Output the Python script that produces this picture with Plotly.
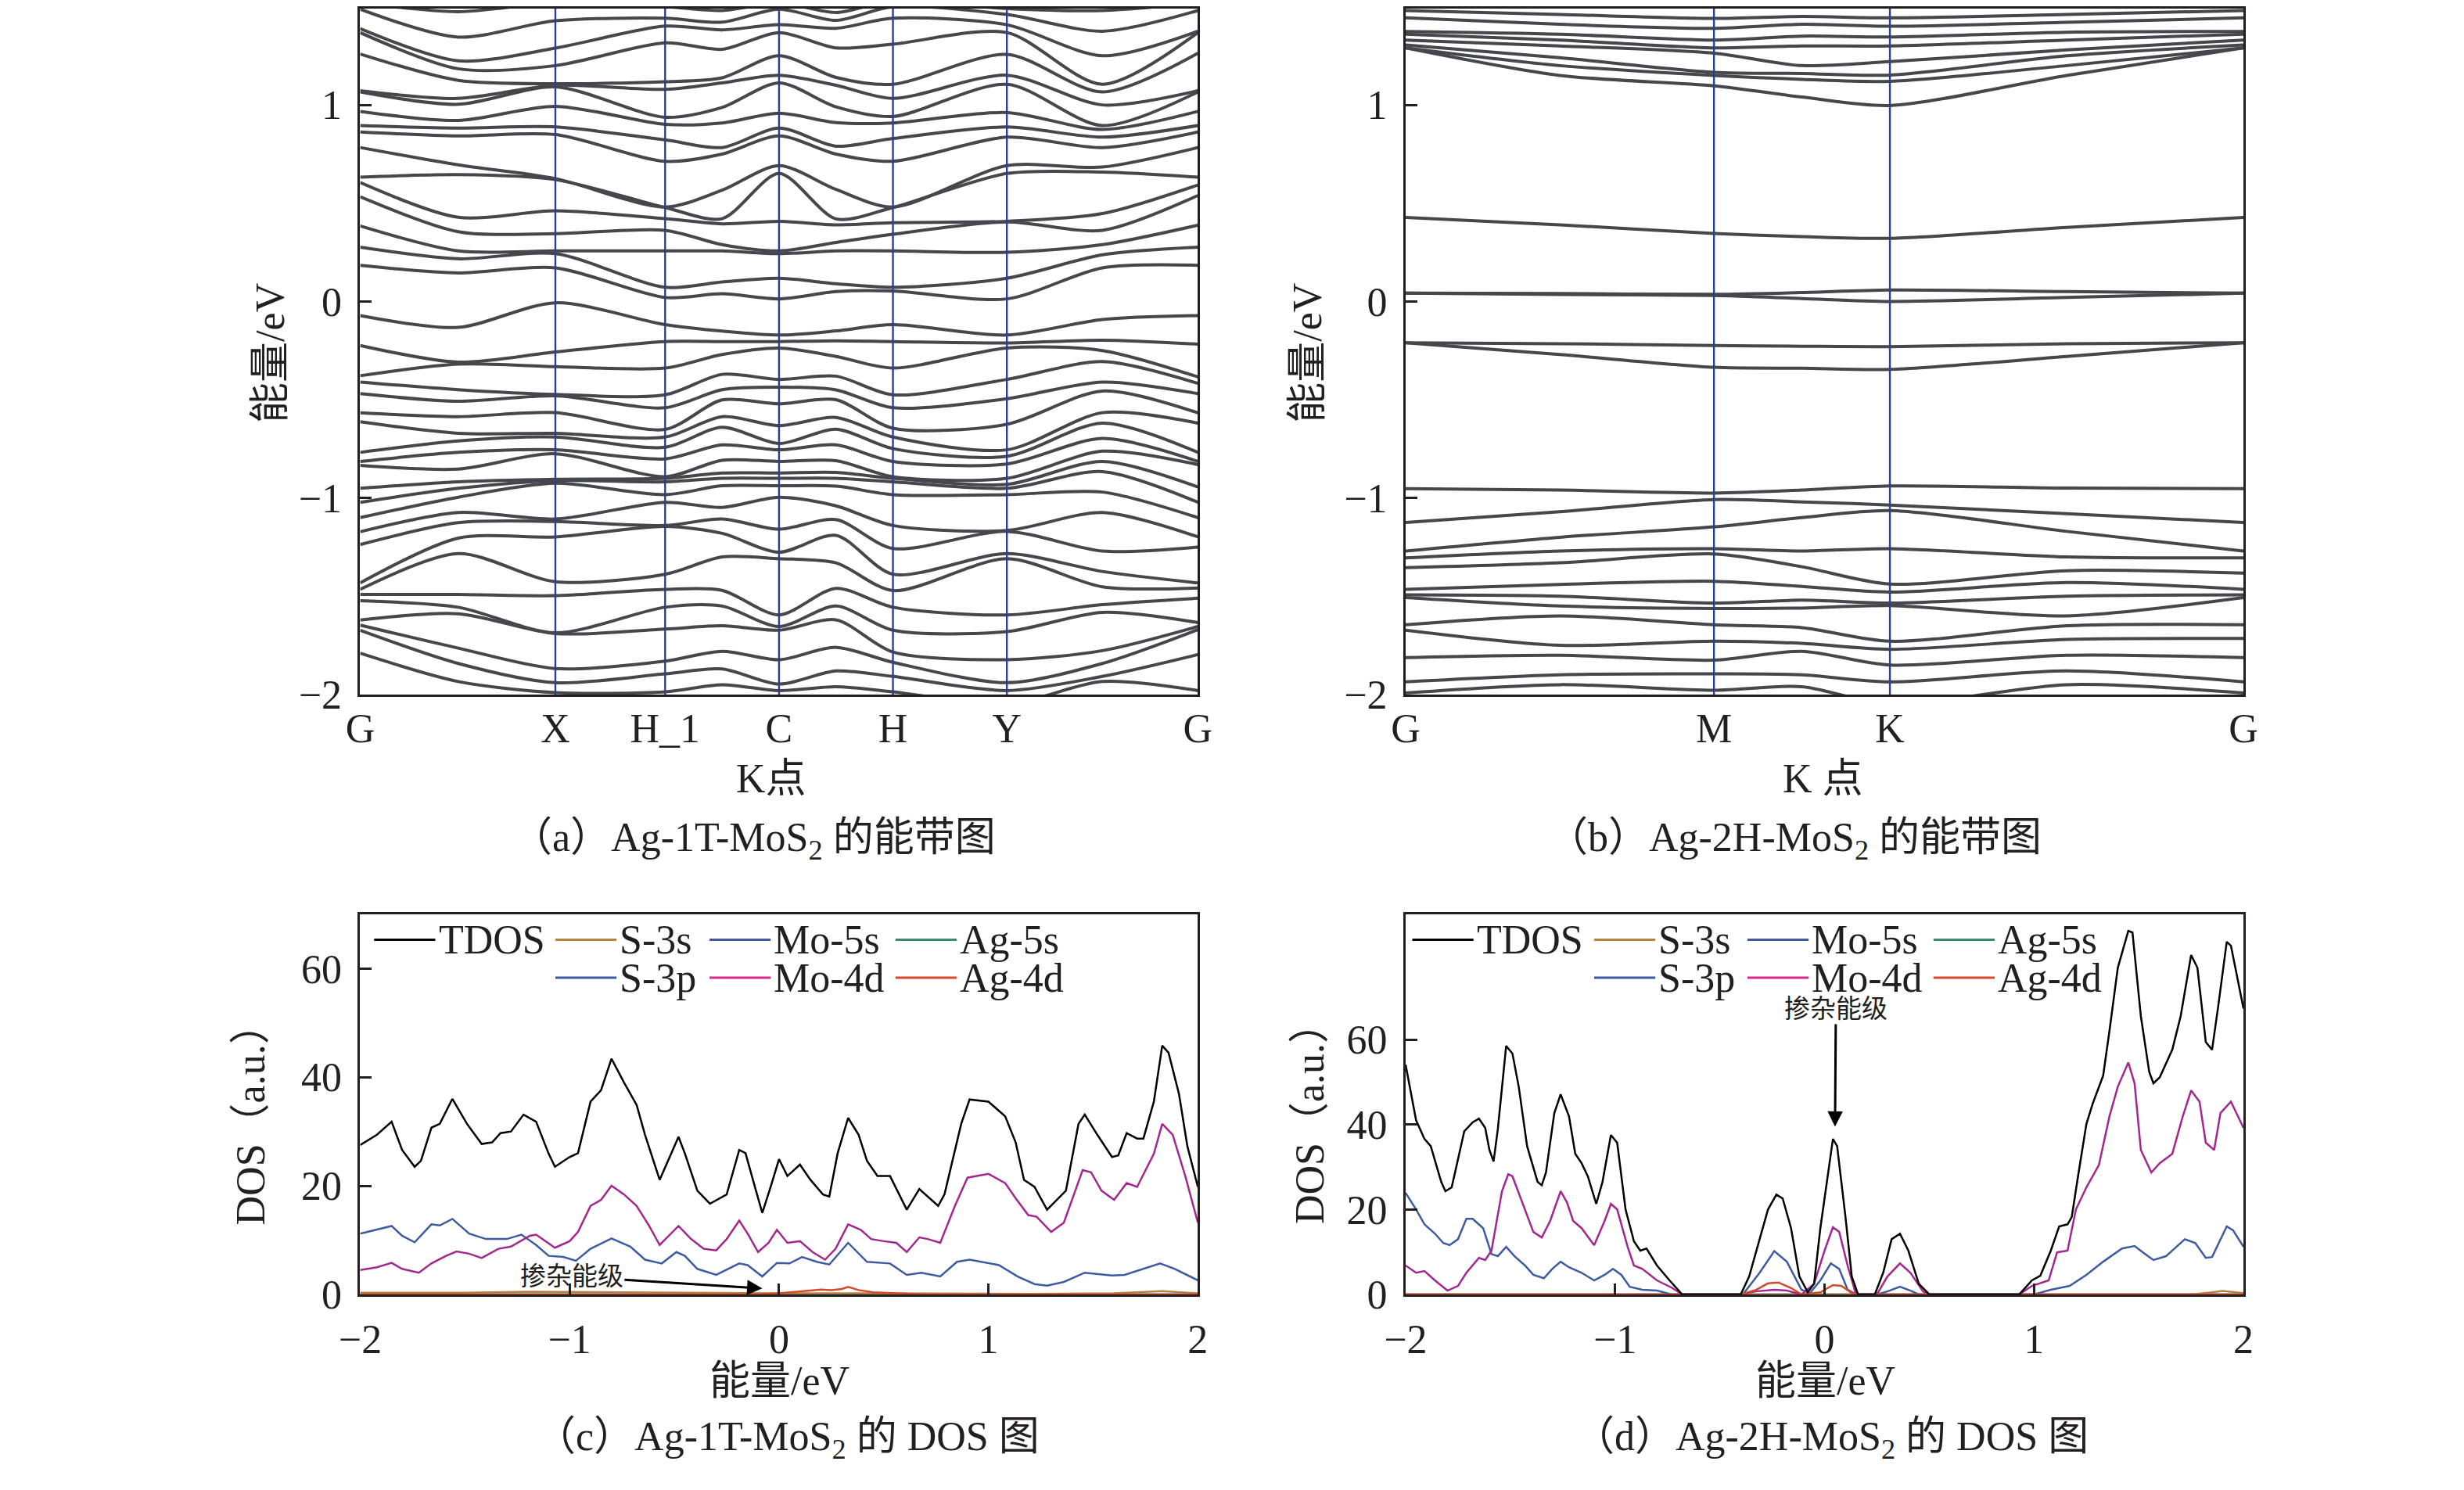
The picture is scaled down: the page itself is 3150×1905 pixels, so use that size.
import plotly.graph_objects as go

# ---------------- (a) Ag-1T-MoS2 band structure ----------------
# energies (eV) read at each k column along G-X-H_1-C-H-Y-G
k_1t = [0.0, 0.117, 0.233, 0.364, 0.432, 0.5, 0.568, 0.636, 0.772, 0.886, 1.0]
hs_1t_pos = [0.0, 0.233, 0.364, 0.5, 0.636, 0.772, 1.0]
hs_1t_lbl = ["G", "X", "H_1", "C", "H", "Y", "G"]

e1t_c0 = [1.52, 1.487, 1.388, 1.368, 1.259, 1.072, 1.066, 0.967, 0.895, 0.862, 0.783, 0.632, 0.605, 0.533,
          0.384, 0.276, 0.184, -0.072, -0.224, -0.378, -0.41, -0.469, -0.567, -0.612, -0.768, -0.814, -0.834,
          -0.951, -1.022, -1.1, -1.172, -1.237, -1.432, -1.465, -1.491, -1.523, -1.621, -1.647, -1.673, -1.79]
e1t_c1 = [1.474, 1.345, 1.224, 1.184, 1.125, 1.033, 1.003, 0.921, 0.882, 0.842, 0.695, 0.645, 0.428, 0.355,
          0.257, 0.217, 0.145, -0.132, -0.309, -0.319, -0.449, -0.508, -0.586, -0.671, -0.71, -0.768, -0.853,
          -0.918, -0.951, -0.996, -1.074, -1.126, -1.204, -1.283, -1.491, -1.556, -1.589, -1.764, -1.842, -1.934]
e1t_c2 = [1.52, 1.428, 1.289, 1.2, 1.108, 1.1, 1.092, 0.993, 0.888, 0.849, 0.625, 0.62, 0.461, 0.345, 0.257,
          0.243, 0.171, -0.007, -0.257, -0.332, -0.473, -0.48, -0.566, -0.671, -0.69, -0.755, -0.775, -0.905,
          -0.912, -0.925, -1.107, -1.12, -1.198, -1.426, -1.497, -1.686, -1.69, -1.868, -1.94, -1.99]
e1t_c3 = [1.5, 1.441, 1.401, 1.316, 1.118, 1.079, 0.937, 0.901, 0.822, 0.713, 0.48, 0.478, 0.421, 0.362, 0.257,
          0.072, 0.02, -0.118, -0.204, -0.339, -0.475, -0.541, -0.651, -0.69, -0.742, -0.801, -0.892, -0.9,
          -0.918, -0.983, -1.022, -1.14, -1.145, -1.388, -1.465, -1.556, -1.667, -1.83, -1.895, -1.986]
e1t_c4 = [1.48, 1.421, 1.382, 1.283, 1.138, 1.112, 0.987, 0.908, 0.783, 0.75, 0.566, 0.421, 0.395, 0.289,
          0.257, 0.099, 0.039, -0.151, -0.204, -0.27, -0.371, -0.449, -0.501, -0.586, -0.64, -0.73, -0.808,
          -0.873, -0.9, -0.938, -1.048, -1.107, -1.18, -1.3, -1.47, -1.55, -1.65, -1.78, -1.87, -1.95]
e1t_c5 = [1.52, 1.487, 1.408, 1.368, 1.25, 1.151, 1.112, 0.958, 0.882, 0.842, 0.691, 0.651, 0.408, 0.257,
          0.243, 0.118, 0.013, -0.171, -0.204, -0.237, -0.397, -0.436, -0.521, -0.632, -0.723, -0.755, -0.814,
          -0.873, -0.9, -0.938, -0.996, -1.159, -1.276, -1.309, -1.595, -1.654, -1.673, -1.823, -1.947, -1.98]
e1t_c6 = [1.47, 1.43, 1.39, 1.29, 1.14, 1.10, 0.99, 0.91, 0.79, 0.75, 0.57, 0.42, 0.39, 0.3, 0.257, 0.09,
          0.05, -0.15, -0.2, -0.28, -0.38, -0.45, -0.5, -0.59, -0.65, -0.73, -0.81, -0.87, -0.9, -0.94, -1.04,
          -1.11, -1.19, -1.33, -1.46, -1.55, -1.62, -1.76, -1.88, -1.96]
e1t_c7 = [1.53, 1.5, 1.441, 1.309, 1.105, 1.033, 0.941, 0.908, 0.829, 0.713, 0.48, 0.478, 0.401, 0.342, 0.257,
          0.072, 0.053, -0.118, -0.204, -0.339, -0.475, -0.541, -0.645, -0.69, -0.749, -0.814, -0.892, -0.9,
          -0.918, -0.983, -1.14, -1.257, -1.388, -1.471, -1.556, -1.673, -1.784, -1.836, -1.908, -1.986]
e1t_c8 = [1.49, 1.46, 1.408, 1.368, 1.257, 1.151, 1.105, 0.961, 0.888, 0.836, 0.691, 0.651, 0.408, 0.405,
          0.25, 0.118, 0.013, -0.171, -0.211, -0.237, -0.397, -0.495, -0.625, -0.755, -0.788, -0.827, -0.9,
          -0.931, -0.951, -0.983, -1.165, -1.17, -1.283, -1.309, -1.595, -1.68, -1.823, -1.94, -1.98, -2.05]
e1t_c9 = [1.48, 1.375, 1.25, 1.105, 1.066, 1.0, 0.895, 0.875, 0.836, 0.783, 0.684, 0.658, 0.447, 0.362,
          0.289, 0.237, 0.171, -0.092, -0.197, -0.25, -0.306, -0.41, -0.456, -0.566, -0.619, -0.697, -0.762,
          -0.814, -0.866, -0.97, -1.074, -1.27, -1.374, -1.452, -1.543, -1.582, -1.777, -1.842, -1.908, -1.934]
e1t_c10 = [1.52, 1.48, 1.375, 1.368, 1.263, 1.072, 1.066, 0.967, 0.895, 0.862, 0.783, 0.632, 0.592, 0.539,
           0.388, 0.276, 0.184, -0.072, -0.217, -0.384, -0.417, -0.469, -0.567, -0.619, -0.768, -0.814, -0.83,
           -0.944, -1.022, -1.1, -1.198, -1.25, -1.432, -1.458, -1.51, -1.634, -1.654, -1.67, -1.797, -1.98]

# ---------------- (b) Ag-2H-MoS2 band structure ----------------
k_2h = [0.0, 0.184, 0.368, 0.473, 0.578, 0.789, 1.0]
hs_2h_pos = [0.0, 0.368, 0.578, 1.0]
hs_2h_lbl = ["G", "M", "K", "G"]

e2h_c0 = [1.48, 1.443, 1.374, 1.36, 1.33, 1.305, 1.29, 1.29, 0.427, 0.042, 0.042, -0.21, -0.21, -0.953,
          -1.125, -1.27, -1.305, -1.355, -1.465, -1.493, -1.507, -1.645, -1.673, -1.812, -1.936, -1.992]
e2h_c1 = [1.46, 1.41, 1.36, 1.33, 1.3, 1.24, 1.2, 1.15, 0.39, 0.04, 0.035, -0.215, -0.27, -0.96, -1.07,
          -1.2, -1.27, -1.33, -1.44, -1.5, -1.55, -1.6, -1.75, -1.8, -1.9, -1.95]
e2h_c2 = [1.44, 1.39, 1.33, 1.29, 1.263, 1.166, 1.15, 1.097, 0.346, 0.036, 0.03, -0.224, -0.335, -0.975,
          -1.008, -1.147, -1.258, -1.285, -1.424, -1.535, -1.562, -1.645, -1.729, -1.825, -1.895, -1.978]
e2h_c3 = [1.45, 1.41, 1.35, 1.3, 1.2, 1.16, 1.13, 1.04, 0.33, 0.045, 0.015, -0.228, -0.34, -0.96, -1.02,
          -1.1, -1.27, -1.35, -1.45, -1.52, -1.56, -1.66, -1.74, -1.78, -1.9, -1.96]
e2h_c4 = [1.443, 1.4, 1.346, 1.3, 1.22, 1.152, 1.12, 0.997, 0.321, 0.058, 0.0, -0.23, -0.346, -0.939, -1.036,
          -1.064, -1.258, -1.438, -1.479, -1.535, -1.548, -1.729, -1.77, -1.85, -1.936, -2.05]
e2h_c5 = [1.46, 1.42, 1.37, 1.33, 1.28, 1.25, 1.2, 1.15, 0.377, 0.05, 0.02, -0.215, -0.28, -0.95, -1.08,
          -1.17, -1.3, -1.37, -1.43, -1.5, -1.6, -1.65, -1.72, -1.8, -1.88, -1.95]
e2h_c6 = [1.48, 1.443, 1.374, 1.36, 1.33, 1.305, 1.29, 1.29, 0.427, 0.042, 0.042, -0.21, -0.21, -0.953,
          -1.125, -1.27, -1.305, -1.382, -1.465, -1.493, -1.507, -1.645, -1.715, -1.812, -1.936, -1.992]

# ---------------- (c) Ag-1T-MoS2 DOS ----------------
c_tdos_e = [-2.00, -1.92, -1.85, -1.80, -1.74, -1.71, -1.66, -1.62, -1.56, -1.49, -1.42, -1.37, -1.33, -1.28,
            -1.22, -1.16, -1.10, -1.07, -1.00, -0.96, -0.90, -0.85, -0.80, -0.74, -0.68, -0.64, -0.57, -0.48,
            -0.45, -0.39, -0.33, -0.25, -0.19, -0.16, -0.11, -0.08, -0.04, 0.00, 0.04, 0.10, 0.15, 0.21, 0.24,
            0.28, 0.33, 0.38, 0.42, 0.47, 0.53, 0.61, 0.67, 0.71, 0.76, 0.79, 0.87, 0.91, 1.00, 1.08, 1.13,
            1.17, 1.22, 1.28, 1.37, 1.43, 1.46, 1.52, 1.59, 1.62, 1.66, 1.71, 1.74, 1.79, 1.83, 1.86, 1.91,
            1.95, 2.00]
c_tdos = [27.5, 29.4, 31.8, 26.6, 23.5, 24.6, 30.7, 31.4, 36.0, 31.4, 27.7, 28.0, 29.7, 30.0, 33.1, 31.8,
          25.9, 23.5, 25.3, 26.0, 35.5, 37.6, 43.4, 39.0, 34.9, 29.4, 21.1, 29.0, 26.0, 19.1, 16.7, 18.4,
          26.6, 26.0, 19.1, 15.0, 19.8, 24.9, 21.8, 23.9, 21.1, 18.4, 18.0, 26.0, 32.5, 29.4, 24.6, 21.8,
          21.8, 15.6, 19.4, 18.0, 16.3, 18.4, 31.4, 35.9, 35.5, 32.8, 28.0, 21.1, 19.8, 15.6, 19.1, 31.4,
          33.1, 29.4, 25.3, 25.6, 29.7, 28.7, 28.7, 35.5, 45.8, 44.5, 36.9, 27.3, 19.8]
c_mo4d_e = [-2.00, -1.92, -1.85, -1.80, -1.72, -1.66, -1.59, -1.54, -1.48, -1.42, -1.34, -1.28, -1.19, -1.16,
            -1.07, -1.00, -0.96, -0.90, -0.85, -0.80, -0.74, -0.68, -0.62, -0.57, -0.48, -0.42, -0.36, -0.30,
            -0.25, -0.19, -0.15, -0.10, -0.05, -0.01, 0.04, 0.10, 0.16, 0.22, 0.27, 0.33, 0.39, 0.44, 0.50,
            0.56, 0.61, 0.67, 0.71, 0.77, 0.84, 0.90, 1.00, 1.08, 1.13, 1.19, 1.23, 1.30, 1.36, 1.45, 1.49,
            1.54, 1.60, 1.66, 1.71, 1.79, 1.83, 1.88, 1.94, 2.00]
c_mo4d = [4.5, 5.0, 5.8, 4.7, 4.0, 5.7, 7.1, 7.9, 7.5, 6.7, 8.4, 8.8, 10.8, 11.0, 8.6, 9.8, 11.5, 16.3, 17.4,
          20.0, 18.4, 16.3, 12.6, 9.1, 12.6, 10.2, 8.4, 8.1, 10.2, 13.6, 11.2, 7.8, 9.5, 11.9, 9.5, 9.8, 7.8,
          6.4, 8.4, 12.9, 11.9, 10.2, 9.8, 9.5, 7.8, 10.5, 10.2, 9.5, 16.3, 21.5, 22.2, 20.5, 17.7, 14.6,
          14.3, 11.5, 13.2, 22.9, 22.5, 19.1, 17.4, 20.5, 19.8, 25.9, 31.4, 29.4, 21.8, 13.2]
c_s3p_e = [-2.00, -1.92, -1.85, -1.80, -1.74, -1.66, -1.62, -1.56, -1.48, -1.40, -1.30, -1.23, -1.16, -1.10,
           -1.03, -0.97, -0.90, -0.80, -0.71, -0.64, -0.56, -0.49, -0.45, -0.39, -0.30, -0.19, -0.15, -0.08,
           -0.01, 0.05, 0.11, 0.18, 0.24, 0.33, 0.42, 0.53, 0.61, 0.68, 0.77, 0.85, 0.91, 1.05, 1.14, 1.22,
           1.28, 1.36, 1.46, 1.59, 1.65, 1.82, 1.89, 2.00]
c_s3p = [11.2, 11.9, 12.6, 10.8, 9.6, 12.9, 12.7, 13.9, 11.2, 10.2, 10.2, 11.0, 9.1, 7.1, 6.9, 6.2, 8.4, 10.3,
         8.8, 6.4, 5.7, 7.8, 7.1, 4.7, 3.6, 5.7, 5.4, 3.3, 5.8, 5.7, 6.9, 6.0, 5.5, 9.5, 6.0, 5.7, 3.6, 4.0,
         3.3, 6.0, 6.4, 5.4, 3.3, 1.9, 1.6, 2.3, 4.0, 3.5, 3.6, 5.7, 4.7, 2.6]
c_s3s_e = [-2.0, -1.5, -1.2, -0.8, -0.4, 0.0, 0.4, 0.8, 1.2, 1.6, 1.83, 2.0]
c_s3s = [0.3, 0.3, 0.5, 0.4, 0.2, 0.2, 0.2, 0.1, 0.1, 0.2, 0.6, 0.2]
c_ag4d_e = [-2.0, -0.1, 0.0, 0.1, 0.2, 0.25, 0.3, 0.33, 0.38, 0.45, 0.55, 0.7, 2.0]
c_ag4d = [0.0, 0.0, 0.2, 0.5, 0.9, 0.8, 1.0, 1.4, 0.8, 0.4, 0.2, 0.0, 0.0]
c_zero_e = [-2.0, 2.0]
c_zero = [0.0, 0.0]

# ---------------- (d) Ag-2H-MoS2 DOS ----------------
d_tdos_e = [-2.00, -1.95, -1.91, -1.88, -1.83, -1.81, -1.78, -1.72, -1.68, -1.65, -1.62, -1.60, -1.58, -1.56,
            -1.52, -1.49, -1.46, -1.42, -1.37, -1.35, -1.33, -1.29, -1.26, -1.22, -1.19, -1.16, -1.13, -1.09,
            -1.06, -1.02, -0.99, -0.95, -0.91, -0.88, -0.85, -0.80, -0.74, -0.68, -0.40, -0.36, -0.31, -0.27,
            -0.23, -0.20, -0.16, -0.12, -0.08, -0.05, -0.02, 0.04, 0.06, 0.10, 0.13, 0.16, 0.24, 0.28, 0.32,
            0.36, 0.40, 0.45, 0.50, 0.93, 0.99, 1.03, 1.08, 1.12, 1.16, 1.18, 1.21, 1.25, 1.28, 1.33, 1.36,
            1.40, 1.45, 1.47, 1.51, 1.55, 1.57, 1.60, 1.66, 1.70, 1.75, 1.78, 1.82, 1.85, 1.88, 1.92, 1.94,
            2.00]
d_tdos = [54.1, 41.0, 36.6, 34.9, 26.5, 24.3, 25.2, 38.4, 40.5, 41.4, 39.2, 34.0, 31.3, 38.8, 58.5, 56.7,
          48.9, 34.9, 26.5, 25.7, 28.7, 42.7, 47.1, 41.9, 33.1, 30.9, 27.8, 21.3, 26.5, 37.5, 35.7, 20.0,
          12.5, 10.3, 10.8, 6.8, 3.3, 0, 0, 4.2, 13.0, 20.0, 23.5, 22.6, 15.6, 4.2, 0.5, 2.5, 15.6, 36.6,
          34.9, 18.2, 4.2, 0, 0, 5.1, 13.0, 14.3, 10.3, 2.5, 0, 0, 3.3, 4.4, 10.3, 16.0, 16.5, 18.2, 27.8,
          40.1, 44.9, 51.5, 62.0, 76.9, 85.6, 85.2, 65.5, 52.4, 49.7, 51.1, 57.6, 65.5, 79.9, 76.9, 59.4,
          57.6, 68.1, 83.0, 82.1, 67.3]
d_mo4d_e = [-2.00, -1.95, -1.91, -1.86, -1.80, -1.75, -1.71, -1.65, -1.62, -1.59, -1.54, -1.51, -1.49, -1.43,
            -1.39, -1.35, -1.31, -1.26, -1.23, -1.20, -1.16, -1.10, -1.05, -1.02, -0.99, -0.94, -0.91, -0.87,
            -0.80, -0.73, -0.68, -0.40, -0.33, -0.24, -0.18, -0.11, -0.05, 0.00, 0.04, 0.07, 0.11, 0.15, 0.25,
            0.30, 0.36, 0.41, 0.47, 0.50, 0.93, 0.99, 1.07, 1.11, 1.16, 1.20, 1.25, 1.31, 1.36, 1.40, 1.45,
            1.48, 1.51, 1.56, 1.60, 1.66, 1.71, 1.75, 1.79, 1.82, 1.86, 1.89, 1.94, 2.00]
d_mo4d = [6.8, 5.1, 5.5, 3.3, 0.9, 2.0, 5.1, 8.6, 8.1, 10.3, 24.3, 28.3, 27.8, 20.0, 14.7, 13.4, 17.3, 24.3,
          21.7, 17.3, 15.6, 11.6, 17.3, 21.3, 20.0, 11.2, 6.8, 6.0, 3.3, 1.6, 0, 0, 0.7, 1.1, 0.9, 0, 2.5,
          10.3, 15.8, 14.7, 6.8, 0, 0, 4.2, 7.3, 5.1, 0.7, 0, 0, 2.0, 3.3, 9.9, 10.3, 20.0, 25.2, 30.5, 41.9,
          48.9, 54.6, 49.7, 34.0, 28.7, 30.9, 33.1, 41.9, 48.0, 45.4, 35.7, 34.0, 42.7, 45.4, 39.2]
d_s3p_e = [-2.00, -1.95, -1.91, -1.86, -1.82, -1.79, -1.75, -1.71, -1.68, -1.63, -1.59, -1.56, -1.52, -1.48,
           -1.43, -1.39, -1.34, -1.30, -1.26, -1.22, -1.16, -1.10, -1.05, -1.01, -0.97, -0.93, -0.87, -0.80,
           -0.73, -0.39, -0.31, -0.24, -0.18, -0.11, -0.07, -0.02, 0.03, 0.07, 0.11, 0.15, 0.25, 0.30, 0.36,
           0.41, 0.45, 1.00, 1.08, 1.17, 1.25, 1.33, 1.42, 1.48, 1.52, 1.57, 1.63, 1.72, 1.77, 1.82, 1.85,
           1.92, 1.95, 2.00]
d_s3p = [23.9, 20.0, 16.5, 14.3, 12.1, 11.6, 13.0, 17.8, 17.8, 15.6, 9.5, 9.0, 11.2, 9.0, 6.8, 4.6, 3.8, 6.0,
         7.7, 6.4, 5.1, 3.3, 4.6, 6.0, 4.6, 1.8, 1.1, 0.9, 0, 0, 5.1, 10.2, 7.7, 1.1, 0.3, 3.3, 7.3, 6.0, 1.1,
         0, 0, 0.7, 1.8, 0.9, 0, 0, 1.1, 2.0, 4.6, 7.7, 10.8, 11.4, 9.9, 8.1, 9.0, 13.0, 12.1, 8.6, 8.8, 16.0,
         15.1, 11.2]
d_ag4d_e = [-2.0, -0.40, -0.33, -0.27, -0.22, -0.16, -0.11, -0.02, 0.04, 0.08, 0.13, 0.16, 2.0]
d_ag4d = [0.0, 0.0, 1.0, 2.6, 2.8, 1.5, 0.0, 0.5, 2.2, 2.0, 0.3, 0.0, 0.0]
d_s3s_e = [-2.0, 1.75, 1.85, 1.9, 2.0]
d_s3s = [0.0, 0.0, 0.5, 0.8, 0.3]
d_zero_e = [-2.0, 2.0]
d_zero = [0.0, 0.0]

legend_names = ["TDOS", "S-3s", "Mo-5s", "Ag-5s", "S-3p", "Mo-4d", "Ag-4d"]
legend_colors = ["#000000", "#b5813f", "#45589c", "#3a8a72", "#3e5aa0", "#d42a8a", "#d24a2a"]

FONT = "Liberation Serif, Noto Sans CJK SC"
INK = "#231f20"
BAND = "#46474c"
VLINE = "#2e3f8f"


def to_bands(cols):
    # connect the n-th lowest level of every k column
    cols = [sorted(c) for c in cols]
    n = min(len(c) for c in cols)
    return [[c[i] for c in cols] for i in range(n)]


fig = go.Figure()

# band structures
for cols, kk, xa, ya in [
    ([e1t_c0, e1t_c1, e1t_c2, e1t_c3, e1t_c4, e1t_c5, e1t_c6, e1t_c7, e1t_c8, e1t_c9, e1t_c10], k_1t, "x", "y"),
    ([e2h_c0, e2h_c1, e2h_c2, e2h_c3, e2h_c4, e2h_c5, e2h_c6], k_2h, "x2", "y2"),
]:
    for band in to_bands(cols):
        fig.add_trace(go.Scatter(x=kk, y=band, mode="lines", xaxis=xa, yaxis=ya,
                                 line=dict(color=BAND, width=4, shape="spline", smoothing=0.8),
                                 hoverinfo="skip", showlegend=False))

# high-symmetry vertical lines
for pos, xa, ya in [(hs_1t_pos[1:-1], "x", "y"), (hs_2h_pos[1:-1], "x2", "y2")]:
    for k in pos:
        fig.add_shape(type="line", xref=xa, yref=ya + " domain", x0=k, x1=k, y0=0, y1=1,
                      line=dict(color=VLINE, width=2.4), layer="above")

# DOS curves
c_series = [(c_zero_e, c_zero, "#3a8a72"), (c_zero_e, c_zero, "#45589c"), (c_s3s_e, c_s3s, "#b5813f"),
            (c_s3p_e, c_s3p, "#3e5aa0"), (c_mo4d_e, c_mo4d, "#a3278f"), (c_ag4d_e, c_ag4d, "#d24a2a"),
            (c_tdos_e, c_tdos, "#000000")]
d_series = [(d_zero_e, d_zero, "#3a8a72"), (d_zero_e, d_zero, "#45589c"), (d_s3s_e, d_s3s, "#b5813f"),
            (d_s3p_e, d_s3p, "#3e5aa0"), (d_mo4d_e, d_mo4d, "#a3278f"), (d_ag4d_e, d_ag4d, "#d24a2a"),
            (d_tdos_e, d_tdos, "#000000")]
for series, xa, ya in [(c_series, "x3", "y3"), (d_series, "x4", "y4")]:
    for ex, vy, col in series:
        fig.add_trace(go.Scatter(x=ex, y=vy, mode="lines", xaxis=xa, yaxis=ya,
                                 line=dict(color=col, width=2.5), hoverinfo="skip", showlegend=False))

# hand-drawn legends (two rows, four columns)
leg_rows = [0.933, 0.933, 0.933, 0.933, 0.833, 0.833, 0.833]
leg_c_x = [0.0166, 0.233, 0.417, 0.639, 0.233, 0.417, 0.639]
leg_d_x = [0.008, 0.225, 0.408, 0.630, 0.225, 0.408, 0.630]
for xa, ya, xs in [("x3", "y3", leg_c_x), ("x4", "y4", leg_d_x)]:
    for name, col, x0, y0 in zip(legend_names, legend_colors, xs, leg_rows):
        fig.add_shape(type="line", xref=xa + " domain", yref=ya + " domain",
                      x0=x0, x1=x0 + 0.073, y0=y0, y1=y0, line=dict(color=col, width=3))
        fig.add_annotation(xref=xa + " domain", yref=ya + " domain", x=x0 + 0.075, y=y0,
                           text=name, showarrow=False, xanchor="left", yanchor="middle",
                           font=dict(family=FONT, size=52, color=INK))

# doping-level labels with arrows
fig.add_annotation(xref="x3", yref="y3", x=-0.08, y=1.1, ax=-0.99, ay=3.3, axref="x3", ayref="y3",
                   text="掺杂能级", showarrow=True, arrowhead=2, arrowsize=1.3, arrowwidth=3,
                   arrowcolor="#000", standoff=0, font=dict(family=FONT, size=33, color=INK))
fig.add_annotation(xref="x4", yref="y4", x=0.05, y=39.5, ax=0.054, ay=67.2, axref="x4", ayref="y4",
                   text="掺杂能级", showarrow=True, arrowhead=2, arrowsize=1.3, arrowwidth=3,
                   arrowcolor="#000", standoff=0, font=dict(family=FONT, size=33, color=INK))

# axis titles and captions
texts = [
    (0.0997, 0.7648, "能量/eV", -90), (0.527, 0.7648, "能量/eV", -90),
    (0.306, 0.4745, "K点", 0), (0.7394, 0.4745, "K 点", 0),
    (0.0917, 0.2451, "DOS（a.u.）", -90), (0.5278, 0.2460, "DOS（a.u.）", -90),
    (0.3095, 0.0635, "能量/eV", 0), (0.7403, 0.0635, "能量/eV", 0),
    (0.299, 0.432, "（a）Ag-1T-MoS<sub>2</sub> 的能带图", 0),
    (0.7276, 0.432, "（b）Ag-2H-MoS<sub>2</sub> 的能带图", 0),
    (0.3127, 0.0231, "（c）Ag-1T-MoS<sub>2</sub> 的 DOS 图", 0),
    (0.7429, 0.0231, "（d）Ag-2H-MoS<sub>2</sub> 的 DOS 图", 0),
]
for x, y, t, ang in texts:
    fig.add_annotation(xref="paper", yref="paper", x=x, y=y, text=t, showarrow=False,
                       textangle=ang, xanchor="center", yanchor="middle",
                       font=dict(family=FONT, size=52, color=INK))

tickfont = dict(family=FONT, size=52, color=INK)
frame = dict(showline=True, mirror=True, linewidth=3, linecolor=INK, showgrid=False, zeroline=False,
             tickfont=tickfont)

band_y = dict(frame, range=[-2, 1.49], tickvals=[-2, -1, 0, 1], ticktext=["−2", "−1", "0", "1"],
              ticks="inside", ticklen=15, tickwidth=3, tickcolor=INK, ticklabelstandoff=10)
dos_x = dict(frame, range=[-2, 2], tickvals=[-2, -1, 0, 1, 2], ticktext=["−2", "−1", "0", "1", "2"],
             ticks="inside", ticklen=14, tickwidth=3, tickcolor=INK, ticklabelstandoff=10)
dos_y = dict(frame, tickvals=[0, 20, 40, 60], ticktext=["0", "20", "40", "60"],
             ticks="inside", ticklen=15, tickwidth=3, tickcolor=INK, ticklabelstandoff=10)

xa_dom = [0.1368, 0.4819]
xb_dom = [0.5675, 0.9127]
y_top = [0.5318, 1.0]
y_bot = [0.1223, 0.3818]

fig.update_layout(
    width=3150, height=1905,
    margin=dict(l=0, r=0, t=0, b=0),
    paper_bgcolor="white", plot_bgcolor="white",
    showlegend=False,
    xaxis=dict(frame, domain=xa_dom, anchor="y", range=[0, 1], tickvals=hs_1t_pos, ticktext=hs_1t_lbl,
               ticks="", ticklabelstandoff=-4),
    yaxis=dict(band_y, domain=y_top, anchor="x"),
    xaxis2=dict(frame, domain=xb_dom, anchor="y2", range=[0, 1], tickvals=hs_2h_pos, ticktext=hs_2h_lbl,
                ticks="", ticklabelstandoff=-4),
    yaxis2=dict(band_y, domain=y_top, anchor="x2"),
    xaxis3=dict(dos_x, domain=xa_dom, anchor="y3"),
    yaxis3=dict(dos_y, domain=y_bot, anchor="x3", range=[0, 70]),
    xaxis4=dict(dos_x, domain=xb_dom, anchor="y4"),
    yaxis4=dict(dos_y, domain=y_bot, anchor="x4", range=[0, 89.5]),
)

fig.write_html("out.html")
